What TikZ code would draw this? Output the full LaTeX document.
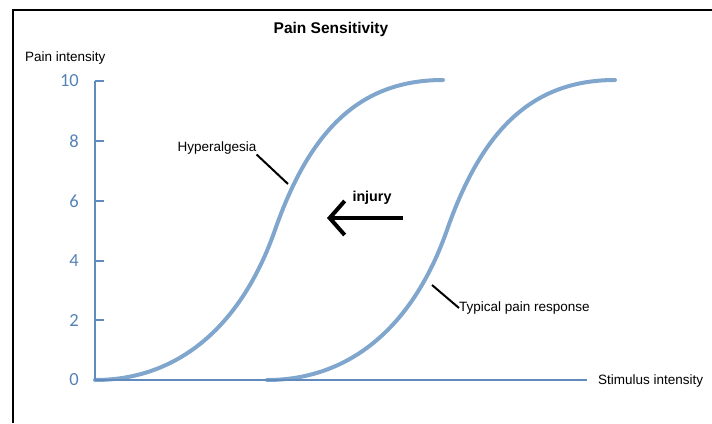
\documentclass[tikz,border=0pt]{standalone}
\usepackage{fontspec}
\setmainfont{Liberation Sans}
\newfontfamily\ticksfont{Carlito}
\usetikzlibrary{arrows.meta}
\definecolor{axisblue}{RGB}{96,139,188}
\definecolor{curveblue}{RGB}{128,166,205}
\definecolor{tickblue}{RGB}{84,130,182}
\tikzset{
  axisline/.style={axisblue, line width=2pt},
  curveline/.style={curveblue, line width=4pt, line cap=round},
  ticklabel/.style={anchor=east, inner sep=0pt, text=tickblue, font=\ticksfont\fontsize{18.5}{20}\selectfont},
  plainlabel/.style={inner sep=0pt, font=\fontsize{13.5}{15}\selectfont},
  leader/.style={black, line width=2pt},
}
\begin{document}
\begin{tikzpicture}[x=1pt, y=-1pt]
                \useasboundingbox (0,0) rectangle (712,423);
                % frame
                \draw[line width=2.5pt] (13,423) -- (13,10) -- (712,10);
                \node[inner sep=0pt, font=\bfseries\fontsize{15.5}{17}\selectfont] (title) at (331,29) {Pain Sensitivity};
                % curves
                \draw[curveline] (95,380) .. controls (175,380) and (240,330) .. (275,230) .. controls (310,130) and (360,80) .. (443,80);
                \draw[curveline, xshift=172pt] (95,380) .. controls (175,380) and (240,330) .. (275,230) .. controls (310,130) and (360,80) .. (443,80);
                % axes
                \draw[axisline] (95,81) -- (95,380);
                \draw[axisline] (95,380) -- (587,380);
                \node[plainlabel, anchor=west] (ylabel) at (25,58) {Pain intensity};
                \node[plainlabel, anchor=west] (xlabel) at (598,381) {Stimulus intensity};
                % ticks
                \draw[axisline] (95,380) -- (104,380);
                \draw[axisline] (95,320) -- (104,320);
                \draw[axisline] (95,261) -- (104,261);
                \draw[axisline] (95,201) -- (104,201);
                \draw[axisline] (95,141) -- (104,141);
                \draw[axisline] (95,81) -- (104,81);
                \node[ticklabel] (tick0) at (79,380) {0};
                \node[ticklabel] (tick2) at (79,320) {2};
                \node[ticklabel] (tick4) at (79,261) {4};
                \node[ticklabel] (tick6) at (79,201) {6};
                \node[ticklabel] (tick8) at (79,141) {8};
                \node[ticklabel] (tick10) at (79,81) {10};
                % labels on the curves
                \node[plainlabel] (hyper) at (217,148) {Hyperalgesia};
                \coordinate (hyper-tip) at (288,184);
                \draw[leader] (hyper.south east) -- (hyper-tip);
                \node[plainlabel, anchor=west] (typical) at (459,308) {Typical pain response};
                \coordinate (typical-tip) at (432,285);
                \draw[leader] (typical-tip) -- (typical.west);
                % shift arrow
                \node[inner sep=0pt, font=\bfseries\fontsize{14.3}{16}\selectfont] (injury) at (372,198) {injury};
                \coordinate (injury-start) at (403,218);
                \coordinate (injury-end) at (327,218);
                \draw[line width=4pt, -{Straight Barb[length=15pt, width=34pt]}] (injury-start) -- (injury-end);
\end{tikzpicture}
\end{document}
